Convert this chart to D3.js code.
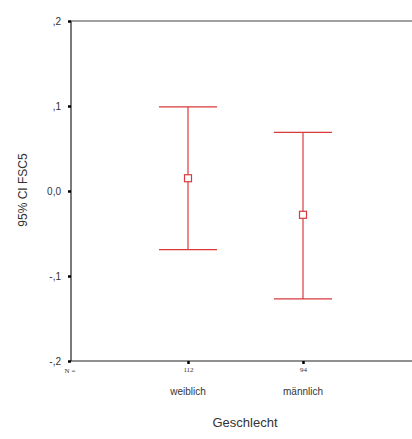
<!DOCTYPE html>
<html>
<head>
<meta charset="utf-8">
<script src="https://cdn.jsdelivr.net/npm/d3@7"></script>
<style>
  body { margin: 0; background: #fff; }
  text { font-family: "Liberation Sans", Arial, sans-serif; fill: #333; }
</style>
</head>
<body>
<script>
// error bar chart: 95% CI of FSC5 by Geschlecht
const categories = ['weiblich', 'männlich']
const counts = [112, 94]
const means = [0.015, -0.028]
const lower = [-0.069, -0.127]
const upper = [0.099, 0.069]
const yTicks = [0.2, 0.1, 0, -0.1, -0.2]
const yTickLabels = [',2', ',1', '0,0', '-,1', '-,2']

const m = { width: 412, height: 439, left: 71, top: 21, right: 412, bottom: 361 }

const svg = d3.select('body').append('svg')
    .attr('width', m.width)
    .attr('height', m.height)

const y = d3.scaleLinear()
    .domain([-0.2, 0.2])
    .range([m.bottom, m.top])

const x = d3.scalePoint()
    .domain(categories)
    .range([188, 303])

// frame lines (left, top, bottom)
svg.append('line')
    .attr('x1', m.left).attr('x2', m.left)
    .attr('y1', m.top).attr('y2', m.bottom)
    .attr('stroke', '#222').attr('stroke-width', 1.2)
svg.append('line')
    .attr('x1', m.left).attr('x2', m.right)
    .attr('y1', m.top).attr('y2', m.top)
    .attr('stroke', '#444').attr('stroke-width', 1.2)
svg.append('line')
    .attr('x1', m.left).attr('x2', m.right)
    .attr('y1', m.bottom).attr('y2', m.bottom)
    .attr('stroke', '#222').attr('stroke-width', 1.2)

// y axis ticks
const yAxis = svg.append('g')
    .attr('transform', `translate(${m.left},0)`)
    .call(d3.axisLeft(y).tickValues(yTicks).tickSize(3)
        .tickFormat((d, i) => yTickLabels[i]))
yAxis.select('.domain').remove()
yAxis.selectAll('line').attr('stroke', '#000').attr('stroke-width', 2.5)
yAxis.selectAll('text')
    .attr('x', -10)
    .style('font-size', '10px')
    .style('font-family', '"Liberation Sans", Arial, sans-serif')
    .attr('fill', '#333')

// x axis ticks with counts
const xAxis = svg.append('g')
    .attr('transform', `translate(0,${m.bottom})`)
    .call(d3.axisBottom(x).tickSize(3)
        .tickFormat((d, i) => counts[i]))
xAxis.select('.domain').remove()
xAxis.selectAll('line').attr('stroke', '#000').attr('stroke-width', 2.5)
xAxis.selectAll('text')
    .attr('y', 6)
    .style('font-size', '7px')
    .style('font-family', '"Liberation Serif", serif')
    .attr('fill', '#333')

svg.append('text')
    .attr('x', 70).attr('y', 373)
    .attr('text-anchor', 'middle')
    .style('font-size', '7px')
    .style('font-family', '"Liberation Serif", serif')
    .text('N =')

// category labels
svg.selectAll('.cat')
    .data(categories)
    .enter()
    .append('text')
        .attr('x', d => x(d))
        .attr('y', 395)
        .attr('text-anchor', 'middle')
        .style('font-size', '10px')
        .text(d => d)

// axis titles
svg.append('text')
    .attr('x', 245).attr('y', 427)
    .attr('text-anchor', 'middle')
    .style('font-size', '13px')
    .text('Geschlecht')

svg.append('text')
    .attr('transform', `translate(27,190) rotate(-90)`)
    .attr('text-anchor', 'middle')
    .style('font-size', '12px')
    .text('95% CI FSC5')

// error bars
const red = '#d9393b'
const capW = 29
const bars = svg.selectAll('.bar')
    .data(categories)
    .enter()
    .append('g')

bars.append('line')
    .attr('x1', d => x(d)).attr('x2', d => x(d))
    .attr('y1', (d, i) => y(upper[i])).attr('y2', (d, i) => y(lower[i]))
    .attr('stroke', red).attr('stroke-width', 1.2)
bars.append('line')
    .attr('x1', d => x(d) - capW).attr('x2', d => x(d) + capW)
    .attr('y1', (d, i) => y(upper[i])).attr('y2', (d, i) => y(upper[i]))
    .attr('stroke', red).attr('stroke-width', 1.2)
bars.append('line')
    .attr('x1', d => x(d) - capW).attr('x2', d => x(d) + capW)
    .attr('y1', (d, i) => y(lower[i])).attr('y2', (d, i) => y(lower[i]))
    .attr('stroke', red).attr('stroke-width', 1.2)
bars.append('rect')
    .attr('x', d => x(d) - 3.5)
    .attr('y', (d, i) => y(means[i]) - 3.5)
    .attr('width', 7).attr('height', 7)
    .attr('fill', '#fff')
    .attr('stroke', red).attr('stroke-width', 1.2)
</script>
</body>
</html>
